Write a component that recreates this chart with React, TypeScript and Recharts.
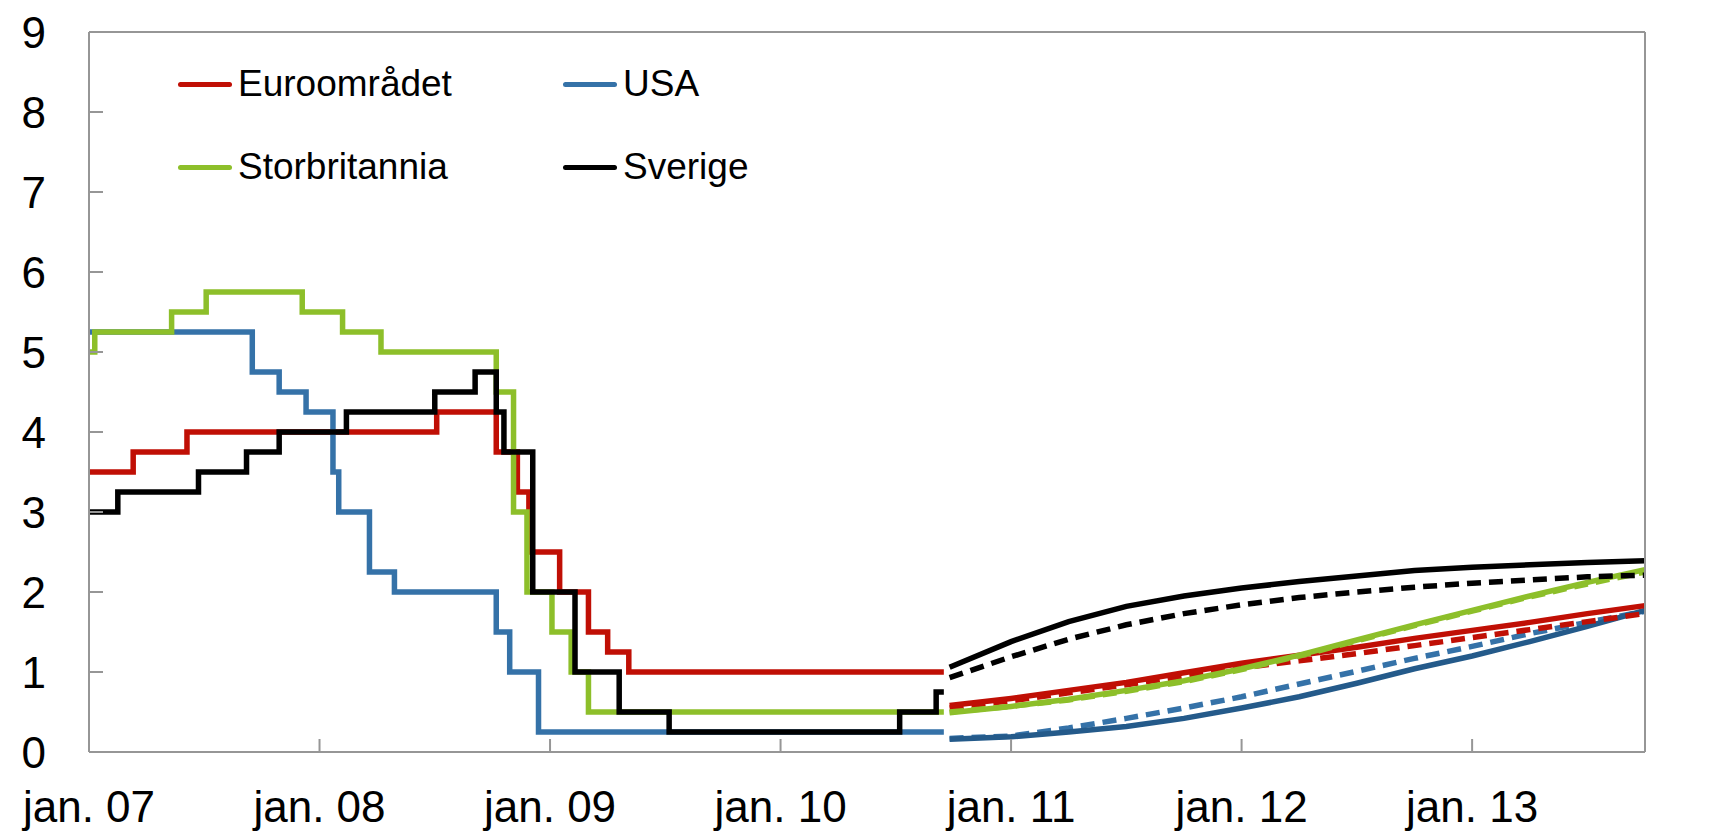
import React from "react";
import { LineChart, Line, XAxis, YAxis, ReferenceLine, Legend } from "recharts";

// x = months since jan. 2007, y = policy rate in percent

// history, change points (stepAfter)
const euroMonths = [0, 2.3, 5.1, 18.1, 21.2, 22.3, 22.9, 24.5, 26.0, 27.0, 28.1, 44.5];
const euroRates = [3.5, 3.75, 4.0, 4.25, 3.75, 3.25, 2.5, 2.0, 1.5, 1.25, 1.0, 1.0];

const usaMonths = [0, 8.5, 9.9, 11.3, 12.7, 13.0, 14.6, 15.9, 21.2, 21.9, 23.4, 44.5];
const usaRates = [5.25, 4.75, 4.5, 4.25, 3.5, 3.0, 2.25, 2.0, 1.5, 1.0, 0.25, 0.25];

const ukMonths = [0, 0.3, 4.3, 6.1, 11.1, 13.2, 15.2, 21.2, 22.1, 22.8, 24.1, 25.1, 26.0, 44.5];
const ukRates = [5.0, 5.25, 5.5, 5.75, 5.5, 5.25, 5.0, 4.5, 3.0, 2.0, 1.5, 1.0, 0.5, 0.5];

const seMonths = [0, 1.5, 5.7, 8.2, 9.9, 13.4, 18.0, 20.1, 21.2, 21.6, 23.1, 25.3, 27.6, 30.2, 42.2, 44.1, 44.5];
const seRates = [3.0, 3.25, 3.5, 3.75, 4.0, 4.25, 4.5, 4.75, 4.25, 3.75, 2.0, 1.0, 0.5, 0.25, 0.5, 0.75, 0.75];

// expected rates, two estimates (solid / dashed)
const fcMonths = [44.8, 48, 51, 54, 57, 60, 63, 66, 69, 72, 75, 78, 81];
const fcEuro = [0.58, 0.67, 0.77, 0.87, 0.99, 1.11, 1.21, 1.31, 1.42, 1.52, 1.62, 1.73, 1.83];
const fcEuroDashed = [0.55, 0.64, 0.74, 0.84, 0.95, 1.05, 1.14, 1.23, 1.33, 1.43, 1.53, 1.63, 1.73];
const fcUsa = [0.16, 0.19, 0.25, 0.32, 0.42, 0.55, 0.69, 0.86, 1.04, 1.2, 1.38, 1.57, 1.77];
const fcUsaDashed = [0.17, 0.2, 0.3, 0.42, 0.55, 0.69, 0.85, 1.01, 1.17, 1.32, 1.48, 1.62, 1.76];
const fcUk = [0.49, 0.57, 0.66, 0.77, 0.89, 1.04, 1.21, 1.4, 1.59, 1.77, 1.95, 2.12, 2.28];
const fcUkDashed = [0.5, 0.57, 0.65, 0.76, 0.88, 1.03, 1.2, 1.39, 1.58, 1.76, 1.94, 2.1, 2.25];
const fcSe = [1.06, 1.38, 1.63, 1.82, 1.95, 2.05, 2.13, 2.2, 2.27, 2.31, 2.34, 2.37, 2.39];
const fcSeDashed = [0.93, 1.19, 1.41, 1.59, 1.73, 1.84, 1.93, 2.0, 2.06, 2.11, 2.15, 2.19, 2.21];

const xTicks = [0, 12, 24, 36, 48, 60, 72];
const xLabels = ["jan. 07", "jan. 08", "jan. 09", "jan. 10", "jan. 11", "jan. 12", "jan. 13"];
const yTicks = [0, 1, 2, 3, 4, 5, 6, 7, 8, 9];

const RED = "#c00f05";
const BLUE = "#3572a8";
const BLUE_DARK = "#245a8a";
const GREEN = "#8dbf2a";
const BLACK = "#000000";
const AXIS = "#969696";
const LW = 5.5;

const legendItems = [
  { name: "Euroområdet", color: RED },
  { name: "USA", color: BLUE },
  { name: "Storbritannia", color: GREEN },
  { name: "Sverige", color: BLACK },
];

const toSteps = (months: number[], rates: number[]) => months.map((m, i) => ({ m, v: rates[i] }));

const euroHist = toSteps(euroMonths, euroRates);
const usaHist = toSteps(usaMonths, usaRates);
const ukHist = toSteps(ukMonths, ukRates);
const seHist = toSteps(seMonths, seRates);

const forecast = fcMonths.map((m, i) => ({
  m,
  euro: fcEuro[i],
  euroD: fcEuroDashed[i],
  usa: fcUsa[i],
  usaD: fcUsaDashed[i],
  uk: fcUk[i],
  ukD: fcUkDashed[i],
  se: fcSe[i],
  seD: fcSeDashed[i],
}));

const renderLegend = () => (
  <div style={{ position: "relative", width: 760, height: 150, fontFamily: "'Liberation Sans', Arial, sans-serif" }}>
    {legendItems.map((it, i) => (
      <div
        key={it.name}
        style={{
          position: "absolute",
          left: (i % 2) * 385,
          top: Math.floor(i / 2) * 83,
          display: "flex",
          alignItems: "center",
          whiteSpace: "nowrap",
        }}
      >
        <span style={{ display: "inline-block", width: 54, height: 5, background: it.color, borderRadius: 3, marginRight: 6 }} />
        <span style={{ fontSize: 37, color: "#000" }}>{it.name}</span>
      </div>
    ))}
  </div>
);

const tickStyle = { fontSize: 44, fill: "#000" };

const App: React.FC = () => {
  return (
    <div style={{ width: 1716, height: 834, background: "#fff" }}>
      <style>{`body { margin: 0; }`}</style>
      <LineChart
        width={1716}
        height={834}
        margin={{ top: 32, right: 0, bottom: 0, left: 0 }}
        style={{ fontFamily: "'Liberation Sans', Arial, sans-serif" }}
      >
        <XAxis
          dataKey="m"
          type="number"
          domain={[0, 81]}
          ticks={xTicks}
          tickFormatter={(v: number) => xLabels[xTicks.indexOf(v)]}
          interval={0}
          height={82}
          tickSize={-13}
          tickMargin={52}
          tick={tickStyle}
          stroke={AXIS}
          strokeWidth={2}
          allowDuplicatedCategory={false}
        />
        <YAxis
          yAxisId="left"
          domain={[0, 9]}
          ticks={yTicks}
          interval={0}
          width={89}
          tickSize={-14}
          tickMargin={57}
          tick={tickStyle}
          stroke={AXIS}
          strokeWidth={2}
        />
        <YAxis
          yAxisId="right"
          orientation="right"
          domain={[0, 9]}
          ticks={yTicks}
          interval={0}
          width={71}
          tickSize={-14}
          tickMargin={57}
          tick={tickStyle}
          stroke={AXIS}
          strokeWidth={2}
        />
        <ReferenceLine yAxisId="left" y={9} stroke={AXIS} strokeWidth={2} />
        <Legend verticalAlign="middle" content={renderLegend} wrapperStyle={{ top: 63, left: 178, width: 760 }} />

        <Line yAxisId="left" data={euroHist} dataKey="v" type="stepAfter" stroke={RED} strokeWidth={LW} dot={false} isAnimationActive={false} />
        <Line yAxisId="left" data={usaHist} dataKey="v" type="stepAfter" stroke={BLUE} strokeWidth={LW} dot={false} isAnimationActive={false} />
        <Line yAxisId="left" data={ukHist} dataKey="v" type="stepAfter" stroke={GREEN} strokeWidth={LW} dot={false} isAnimationActive={false} />
        <Line yAxisId="left" data={seHist} dataKey="v" type="stepAfter" stroke={BLACK} strokeWidth={LW} dot={false} isAnimationActive={false} />

        <Line yAxisId="left" data={forecast} dataKey="usaD" type="linear" stroke={BLUE} strokeWidth={LW} strokeDasharray="14 8" dot={false} isAnimationActive={false} />
        <Line yAxisId="left" data={forecast} dataKey="usa" type="linear" stroke={BLUE_DARK} strokeWidth={LW} dot={false} isAnimationActive={false} />
        <Line yAxisId="left" data={forecast} dataKey="euroD" type="linear" stroke={RED} strokeWidth={LW} strokeDasharray="14 8" dot={false} isAnimationActive={false} />
        <Line yAxisId="left" data={forecast} dataKey="euro" type="linear" stroke={RED} strokeWidth={LW} dot={false} isAnimationActive={false} />
        <Line yAxisId="left" data={forecast} dataKey="ukD" type="linear" stroke={GREEN} strokeWidth={LW} strokeDasharray="14 8" dot={false} isAnimationActive={false} />
        <Line yAxisId="left" data={forecast} dataKey="uk" type="linear" stroke={GREEN} strokeWidth={LW} dot={false} isAnimationActive={false} />
        <Line yAxisId="left" data={forecast} dataKey="seD" type="linear" stroke={BLACK} strokeWidth={LW} strokeDasharray="14 8" dot={false} isAnimationActive={false} />
        <Line yAxisId="left" data={forecast} dataKey="se" type="linear" stroke={BLACK} strokeWidth={LW} dot={false} isAnimationActive={false} />
      </LineChart>
    </div>
  );
};

export default App;
